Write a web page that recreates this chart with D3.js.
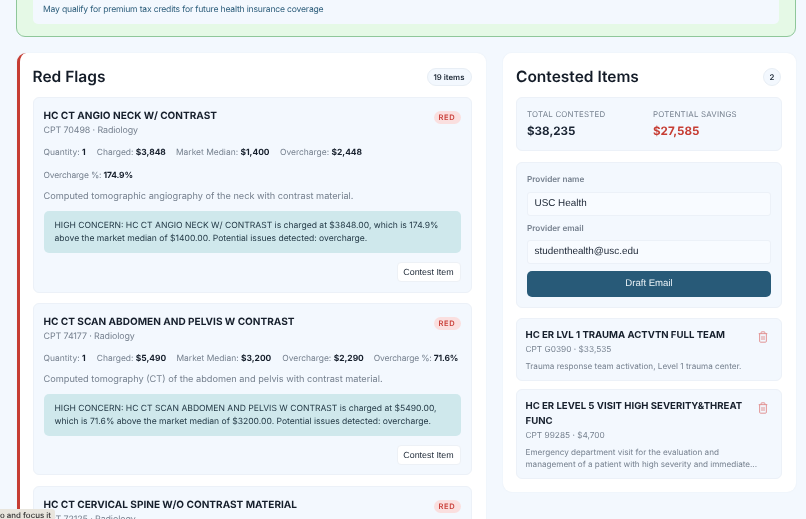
<!DOCTYPE html>
<html>
<head>
<meta charset="utf-8">
<script src="https://cdn.jsdelivr.net/npm/d3@7"></script>
<style>
  * { box-sizing: border-box; }
  html, body { margin: 0; width: 806px; height: 519px; overflow: hidden; background: #f3f8fe; }
  body { font-family: Inter, "Noto Sans", sans-serif; color: #1a2433; position: relative; text-rendering: geometricPrecision; filter: blur(0.25px); }
  .abs { position: absolute; }
  .green { left: 16px; top: -60px; width: 780px; height: 97px; background: #e5f9e6; border: 1px solid #8fc79a; border-radius: 9px; }
  .green-inner { left: 16px; top: 0; width: 746px; height: 83px; background: #f3f8fe; border-radius: 5px; }
  .green-text { left: 43px; top: 3.5px; font-size: 8.6px; letter-spacing: -0.19px; line-height: 12px; color: #2f5f7c; white-space: nowrap; }
  .panel { background: #fff; border-radius: 9px; box-shadow: 0 0 2px rgba(30,60,90,0.06); }
  .flags { left: 17px; top: 53px; width: 468.5px; height: 520px; border-left: 3.5px solid #c63d33; }
  .contested { left: 502.5px; top: 53px; width: 293px; height: 439px; }
  .h2 { font-size: 15.5px; font-weight: 600; color: #141c28; white-space: nowrap; line-height: 20px; }
  .badge { font-size: 7.8px; font-weight: 600; height: 18px; line-height: 17px; text-align: center; border-radius: 9px; background: #f3f8fe; border: 1px solid #e8eef5; color: #1f2a38; }
  .card { background: #f3f8fe; border: 1px solid #ecf1f8; border-radius: 6px; }
  .flag-title { left: 10px; font-size: 10.05px; font-weight: 700; color: #161f2c; white-space: nowrap; line-height: 14px; }
  .flag-sub { left: 10px; font-size: 8.9px; letter-spacing: -0.1px; color: #76818f; white-space: nowrap; line-height: 12px; }
  .red-pill { right: 10.5px; width: 27px; height: 13px; border-radius: 7px; background: #fadfdf; color: #c9403a; font-size: 7.5px; font-weight: 600; letter-spacing: 0.7px; line-height: 13px; text-align: center; }
  .meta { font-size: 8.45px; color: #76818f; white-space: nowrap; line-height: 12px; }
  .meta b { color: #161f2c; font-weight: 700; }
  .desc { left: 10px; font-size: 9.2px; color: #76818f; white-space: nowrap; line-height: 12px; }
  .note { left: 10.5px; width: 417px; height: 42px; background: #cfe8ec; border-radius: 5px; padding: 9.5px 10.5px; font-size: 8.57px; line-height: 13.3px; color: #1f3542; white-space: nowrap; }
  .btn { right: 10.5px; width: 64px; height: 20px; background: #fff; border: 1px solid #edf1f6; border-radius: 4px; font-family: "Liberation Sans", sans-serif; font-size: 8.9px; line-height: 18px; text-align: center; color: #1f2a38; }
  .stat-label { font-size: 7.9px; letter-spacing: 0.2px; color: #76818f; white-space: nowrap; line-height: 10px; }
  .stat-val { font-size: 11.6px; font-weight: 700; white-space: nowrap; line-height: 14px; }
  .f-label { left: 10.5px; font-size: 8.2px; font-weight: 600; color: #76818f; white-space: nowrap; line-height: 10px; }
  .input { left: 10.5px; width: 244px; height: 24px; background: #f8fbff; border: 1px solid #ecf1f8; border-radius: 3px; font-family: "Liberation Sans", sans-serif; font-size: 9.9px; padding-left: 6.5px; line-height: 22px; color: #1a2433; }
  .draft { left: 10.5px; top: 107.5px; width: 244px; height: 26.5px; background: #285a78; border-radius: 5px; color: #e8f1f6; font-family: "Liberation Sans", sans-serif; font-size: 9.6px; line-height: 26px; text-align: center; }
  .c-title { left: 9px; width: 228px; font-size: 9.6px; font-weight: 700; line-height: 15px; color: #161f2c; }
  .c-sub { left: 9px; font-size: 8.3px; color: #76818f; white-space: nowrap; line-height: 12px; }
  .c-desc { left: 9px; width: 238px; font-size: 8.15px; color: #76818f; line-height: 11.6px; }
  .tip { left: 0; top: 508.5px; width: 55px; height: 11px; background: #e8e5dd; border-top-right-radius: 3px; font-size: 7.9px; font-weight: 500; line-height: 13px; color: #333; white-space: nowrap; overflow: hidden; text-align: right; padding-right: 5.5px; }
</style>
</head>
<body>
<script>
// red flag rows
const flagTitles = ["HC CT ANGIO NECK W/ CONTRAST", "HC CT SCAN ABDOMEN AND PELVIS W CONTRAST", "HC CT CERVICAL SPINE W/O CONTRAST MATERIAL"];
const flagCodes = ["CPT 70498 · Radiology", "CPT 74177 · Radiology", "CPT 72125 · Radiology"];
const flagCharged = ["$3,848", "$5,490"];
const flagMedian = ["$1,400", "$3,200"];
const flagOver = ["$2,448", "$2,290"];
const flagPct = ["174.9%", "71.6%"];
const flagDesc = [
  "Computed tomographic angiography of the neck with contrast material.",
  "Computed tomography (CT) of the abdomen and pelvis with contrast material."
];
const flagNotes = [
  ["HIGH CONCERN: HC CT ANGIO NECK W/ CONTRAST is charged at $3848.00, which is 174.9%", "above the market median of $1400.00. Potential issues detected: overcharge."],
  ["HIGH CONCERN: HC CT SCAN ABDOMEN AND PELVIS W CONTRAST is charged at $5490.00,", "which is 71.6% above the market median of $3200.00. Potential issues detected: overcharge."]
];

// contested rows
const contestedTitles = ["HC ER LVL 1 TRAUMA ACTVTN FULL TEAM", "HC ER LEVEL 5 VISIT HIGH SEVERITY&THREAT FUNC"];
const contestedCodes = ["CPT G0390 · $33,535", "CPT 99285 · $4,700"];
const contestedDesc = [
  "Trauma response team activation, Level 1 trauma center.",
  "Emergency department visit for the evaluation and management of a patient with high severity and immediate..."
];

const body = d3.select("body");

function box(parent, cls, text) {
  const el = parent.append("div").attr("class", "abs " + cls);
  if (text !== undefined) el.text(text);
  return el;
}

// green summary panel cut off at the top
const green = box(body, "green");
box(green, "green-inner");
box(body, "green-text", "May qualify for premium tax credits for future health insurance coverage");

// Red Flags panel
const flags = box(body, "panel flags");
box(flags, "h2", "Red Flags").style("left", "12.5px").style("top", "14px");
box(flags, "badge", "19 items").style("left", "406.5px").style("top", "15px").style("width", "45px");

const cardTops = [44, 250, 433];
const cardHeights = [196, 172, 200];
flagTitles.forEach((title, i) => {
  const card = box(flags, "card")
    .style("left", "12.5px").style("top", cardTops[i] + "px")
    .style("width", "439.5px").style("height", cardHeights[i] + "px");
  box(card, "flag-title", title).style("top", "11px");
  box(card, "flag-sub", flagCodes[i]).style("top", "26.5px");
  box(card, "red-pill", "RED").style("top", "13px");
  if (i > 1) return;

  // meta row wraps on the first card, fits on the second
  const metaItems = [["Quantity: ", "1"], ["Charged: ", flagCharged[i]], ["Market Median: ", flagMedian[i]], ["Overcharge: ", flagOver[i]], ["Overcharge %: ", flagPct[i]]];
  const metaLeft = i === 0 ? [10, 63.3, 142.5, 246.5, 10] : [10, 63.3, 143, 248.7, 340.3];
  const metaTop = i === 0 ? [48.5, 48.5, 48.5, 48.5, 71.5] : [48.5, 48.5, 48.5, 48.5, 48.5];
  metaItems.forEach((m, j) => {
    const row = box(card, "meta").style("left", metaLeft[j] + "px").style("top", metaTop[j] + "px");
    if (j === 4) row.style("letter-spacing", "-0.15px");
    row.append("span").text(m[0]);
    row.append("b").text(m[1]);
  });

  const shift = i === 0 ? 23 : 0;
  box(card, "desc", flagDesc[i]).style("top", (69.5 + shift) + "px");
  const note = box(card, "note").style("top", (89.5 + shift) + "px");
  flagNotes[i].forEach(line => note.append("div").text(line));
  box(card, "btn", "Contest Item").style("top", (141 + shift) + "px");
});

// Contested Items panel
const contested = box(body, "panel contested");
box(contested, "h2", "Contested Items").style("left", "13.5px").style("top", "14px");
box(contested, "badge", "2").style("left", "260.5px").style("top", "15px").style("width", "18px");

const stats = box(contested, "card").style("left", "13px").style("top", "44px").style("width", "266px").style("height", "54px");
box(stats, "stat-label", "TOTAL CONTESTED").style("left", "10.5px").style("top", "11px");
box(stats, "stat-val", "$38,235").style("left", "10.5px").style("top", "26px");
box(stats, "stat-label", "POTENTIAL SAVINGS").style("left", "136.5px").style("top", "11px");
box(stats, "stat-val", "$27,585").style("left", "136.5px").style("top", "26px").style("color", "#c63d33");

const form = box(contested, "card").style("left", "13px").style("top", "109px").style("width", "266px").style("height", "145.5px");
box(form, "f-label", "Provider name").style("top", "11px");
box(form, "input", "USC Health").style("top", "28.5px");
box(form, "f-label", "Provider email").style("top", "60px");
box(form, "input", "studenthealth@usc.edu").style("top", "77px");
box(form, "draft", "Draft Email");

const itemTops = [265, 336];
const itemHeights = [63, 89.5];
const subTops = [24.5, 39.5];
const descTops = [42, 57.3];
contestedTitles.forEach((title, i) => {
  const item = box(contested, "card")
    .style("left", "13px").style("top", itemTops[i] + "px")
    .style("width", "266px").style("height", itemHeights[i] + "px");
  box(item, "c-title", title).style("top", "9px");
  box(item, "c-sub", contestedCodes[i]).style("top", subTops[i] + "px");
  box(item, "c-desc", contestedDesc[i]).style("top", descTops[i] + "px");

  // trash icon
  const svg = item.append("svg").attr("class", "abs")
    .style("left", "241.5px").style("top", "11.5px")
    .attr("width", 10).attr("height", 12).attr("viewBox", "0 0 11 13")
    .attr("fill", "none").attr("stroke", "#e08a8a").attr("stroke-width", 1);
  svg.append("path").attr("d", "M0.8 2.8H10.2M3.5 2.8V1.3Q3.5 0.8 4 0.8H7Q7.5 0.8 7.5 1.3V2.8M1.8 2.8V11.2Q1.8 12.2 2.8 12.2H8.2Q9.2 12.2 9.2 11.2V2.8M4.4 5.3V9.8M6.6 5.3V9.8");
});

// stray browser hint at the bottom left
box(body, "tip", "o and focus it");
</script>
</body>
</html>
